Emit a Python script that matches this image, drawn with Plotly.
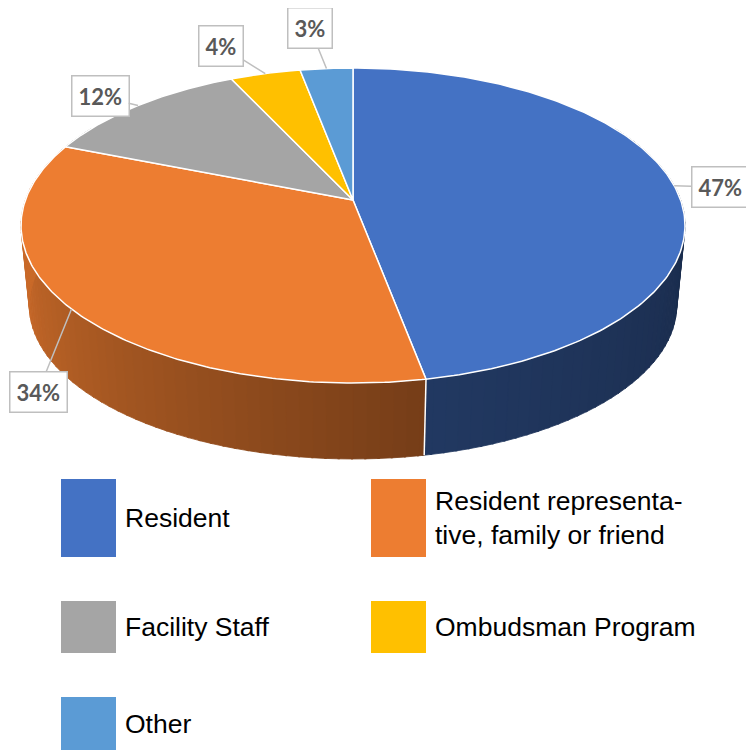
import numpy as np
import plotly.graph_objects as go

# ---------------- data ----------------
categories = ["Resident", "Resident representative, family or friend",
              "Facility Staff", "Ombudsman Program", "Other"]
values = [47, 34, 12, 4, 3]
colors = ["#4472C4", "#ED7D31", "#A5A5A5", "#FFC000", "#5B9BD5"]
label_texts = [f"{v}%" for v in values]
legend_labels = ["Resident", "Resident representa-<br>tive, family or friend",
                 "Facility Staff", "Ombudsman Program", "Other"]

# ---------------- styling / layout helpers ----------------
W, H = 754, 750
PAGE_MARGIN = 8            # default body margin of the html page
X0, Y0 = 353, 200          # apex of the (perspective) pie top
A, B, K = 327.6, 153.4, 0.162
F, DC = 0.975, 80.5        # bottom-face shrink and drop
label_boxes = [(720, 187), (38, 392), (100, 96), (221, 46), (310, 28)]
legend_boxes = [(61, 479, 557), (371, 479, 557), (61, 601, 653),
                (371, 601, 653), (61, 697, 750)]


def rim(theta_deg):
    t = np.radians(theta_deg)
    u = np.sin(t)
    v = -np.cos(t)
    s = 1.0 / (1.0 - K * v)
    return X0 + A * u * s, Y0 + B * v * s


def rim_bottom(theta_deg):
    x, y = rim(theta_deg)
    return X0 + F * (x - X0), Y0 + DC + F * (y - Y0)


def hex_to_rgb(h):
    h = h.lstrip("#")
    return [int(h[i:i + 2], 16) for i in (0, 2, 4)]


def shade(h, f):
    r, g, b = hex_to_rgb(h)
    return f"rgb({int(r*f)},{int(g*f)},{int(b*f)})"


total = sum(values)
cum = np.concatenate([[0], np.cumsum(values)]) * 360.0 / total
starts, ends = cum[:-1], cum[1:]


def slice_of(theta):
    theta = theta % 360
    for i in range(len(values)):
        if starts[i] <= theta < ends[i]:
            return i
    return len(values) - 1


fig = go.Figure()

# ---------------- side walls ----------------
grid = list(np.arange(60, 300.01, 2.0))
for c in cum:
    if 60 < c < 300:
        grid.append(c)
grid = sorted(set(grid))
for a, b in zip(grid[:-1], grid[1:]):
    m = 0.5 * (a + b)
    i = slice_of(m)
    f = float(np.interp(m, [90, 170, 260], [0.38, 0.50, 0.85]))
    col = shade(colors[i], f)
    ts = np.linspace(a, b + 0.3, 4)
    xt, yt = rim(ts)
    xb, yb = rim_bottom(ts[::-1])
    fig.add_trace(go.Scatter(
        x=np.concatenate([xt, xb, xt[:1]]), y=np.concatenate([yt, yb, yt[:1]]),
        mode="lines", fill="toself", fillcolor=col,
        line=dict(color=col, width=0.8), hoverinfo="skip", showlegend=False))

# seams between slices visible on the side
t1 = np.degrees(np.arccos(-K))
t2 = 360 - t1
for c in cum:
    if t1 < c < t2:
        xt, yt = rim(c)
        xb, yb = rim_bottom(c)
        fig.add_trace(go.Scatter(x=[xt, xb], y=[yt, yb], mode="lines",
                                 line=dict(color="white", width=1.5),
                                 hoverinfo="skip", showlegend=False))

# ---------------- top faces ----------------
for i in range(len(values)):
    ts = np.linspace(starts[i], ends[i], 200)
    xs, ys = rim(ts)
    fig.add_trace(go.Scatter(
        x=np.concatenate([[X0], xs, [X0]]), y=np.concatenate([[Y0], ys, [Y0]]),
        mode="lines", fill="toself", fillcolor=colors[i],
        line=dict(color="white", width=1.5), name=categories[i],
        hoverinfo="name", showlegend=False))

# ---------------- data labels (callouts) ----------------
for i in range(len(values)):
    mid = 0.5 * (starts[i] + ends[i])
    tx, ty = rim(mid)
    bx, by = label_boxes[i]
    fig.add_annotation(
        x=float(tx), y=float(ty), ax=bx, ay=by, axref="x", ayref="y",
        xref="x", yref="y", text=label_texts[i], showarrow=True,
        arrowhead=0, arrowwidth=1.5, arrowcolor="#BFBFBF",
        bordercolor="#BFBFBF", borderwidth=1.5, borderpad=6, bgcolor="white",
        font=dict(family="Lato", size=22, color="#595959", weight=700))

# ---------------- legend ----------------
for i, (lx, ly0, ly1) in enumerate(legend_boxes):
    fig.add_shape(type="rect", xref="x", yref="y", x0=lx, x1=lx + 55,
                  y0=ly0, y1=ly1, fillcolor=colors[i], line=dict(width=0))
    fig.add_annotation(
        x=lx + 62, y=(ly0 + ly1) / 2, xref="x", yref="y", text=legend_labels[i],
        showarrow=False, xanchor="left", yanchor="middle", align="left",
        font=dict(family="Liberation Sans", size=26.5, color="#000000"))

fig.update_layout(
    width=W - PAGE_MARGIN, height=H - PAGE_MARGIN,
    margin=dict(l=0, r=0, t=0, b=0),
    paper_bgcolor="white", plot_bgcolor="white",
    xaxis=dict(range=[PAGE_MARGIN, W], visible=False, fixedrange=True),
    yaxis=dict(range=[H, PAGE_MARGIN], visible=False, fixedrange=True),
)

fig.write_html("out.html")
